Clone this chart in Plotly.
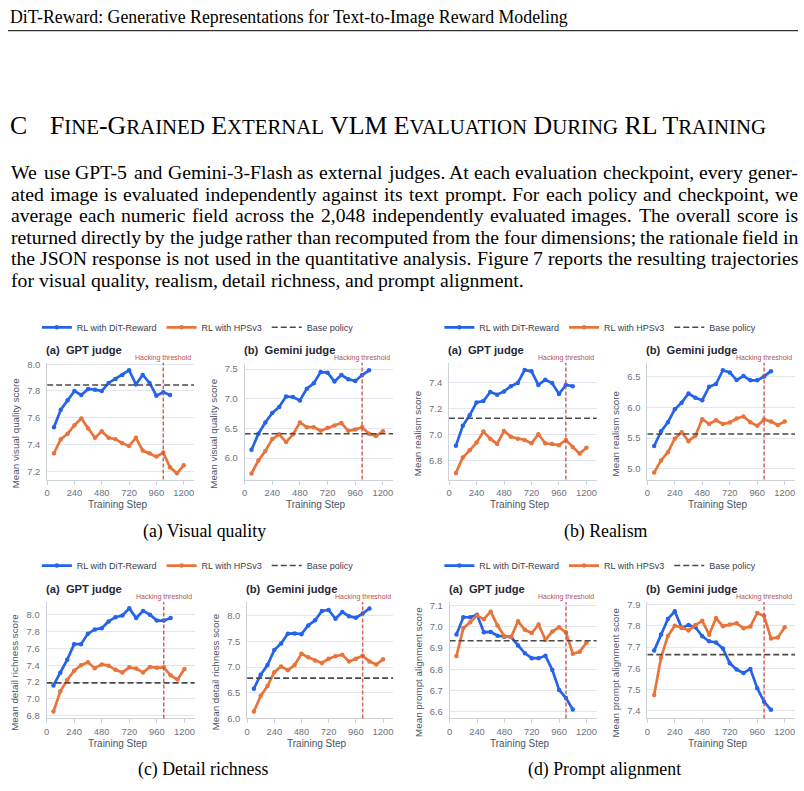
import plotly.graph_objects as go

W, H = 804, 791

# ---------------- data ----------------
STEPS_DIT = [60, 120, 180, 240, 300, 360, 420, 480, 540, 600, 660, 720, 780, 840, 900, 960, 1020, 1080]
STEPS_HPS = [60, 120, 180, 240, 300, 360, 420, 480, 540, 600, 660, 720, 780, 840, 900, 960, 1020, 1080, 1140, 1200]
X_TICKS = [0, 240, 480, 720, 960, 1200]
X_RANGE = [0, 1290]
HACK_STEP = 1020

VQ_GPT_DIT = [7.53, 7.66, 7.73, 7.80, 7.77, 7.815, 7.81, 7.80, 7.86, 7.89, 7.92, 7.955, 7.85, 7.92, 7.86, 7.765, 7.79, 7.77]
VQ_GPT_HPS = [7.335, 7.44, 7.48, 7.545, 7.595, 7.52, 7.45, 7.50, 7.45, 7.44, 7.41, 7.39, 7.45, 7.355, 7.335, 7.31, 7.34, 7.23, 7.185, 7.245]
VQ_GPT_BASE = 7.845
VQ_GEM_DIT = [6.14, 6.41, 6.60, 6.76, 6.86, 7.04, 7.03, 6.97, 7.17, 7.26, 7.45, 7.44, 7.29, 7.40, 7.33, 7.30, 7.40, 7.48]
VQ_GEM_HPS = [5.74, 5.96, 6.12, 6.32, 6.40, 6.27, 6.40, 6.60, 6.52, 6.52, 6.46, 6.51, 6.55, 6.59, 6.46, 6.48, 6.52, 6.41, 6.37, 6.45]
VQ_GEM_BASE = 6.41

RE_GPT_DIT = [6.915, 7.07, 7.15, 7.25, 7.26, 7.33, 7.31, 7.335, 7.375, 7.40, 7.50, 7.49, 7.385, 7.425, 7.40, 7.315, 7.385, 7.375]
RE_GPT_HPS = [6.705, 6.825, 6.88, 6.94, 7.025, 6.97, 6.93, 7.03, 6.985, 6.97, 6.96, 6.935, 7.005, 6.935, 6.93, 6.92, 6.96, 6.905, 6.855, 6.90]
RE_GPT_BASE = 7.128
RE_GEM_DIT = [5.37, 5.61, 5.76, 5.97, 6.08, 6.23, 6.16, 6.12, 6.34, 6.385, 6.61, 6.575, 6.45, 6.515, 6.445, 6.445, 6.51, 6.595]
RE_GEM_HPS = [4.935, 5.135, 5.27, 5.49, 5.595, 5.45, 5.54, 5.81, 5.73, 5.79, 5.73, 5.755, 5.82, 5.855, 5.76, 5.70, 5.805, 5.77, 5.715, 5.77]
RE_GEM_BASE = 5.567

DR_GPT_DIT = [7.16, 7.31, 7.465, 7.65, 7.65, 7.775, 7.825, 7.84, 7.92, 7.97, 7.99, 8.075, 7.96, 8.045, 8.0, 7.93, 7.93, 7.96]
DR_GPT_HPS = [6.85, 7.09, 7.225, 7.335, 7.40, 7.435, 7.365, 7.41, 7.395, 7.345, 7.315, 7.375, 7.36, 7.315, 7.38, 7.37, 7.375, 7.28, 7.23, 7.355]
DR_GPT_BASE = 7.19
DR_GEM_DIT = [6.58, 6.85, 7.04, 7.33, 7.46, 7.65, 7.655, 7.64, 7.81, 7.91, 8.09, 8.11, 7.94, 8.07, 7.99, 7.96, 8.04, 8.14]
DR_GEM_HPS = [6.135, 6.44, 6.63, 6.90, 7.01, 6.94, 7.04, 7.26, 7.19, 7.13, 7.08, 7.16, 7.21, 7.24, 7.11, 7.16, 7.22, 7.11, 7.05, 7.15]
DR_GEM_BASE = 6.785

PA_GPT_DIT = [6.963, 7.044, 7.044, 7.056, 6.974, 6.975, 6.957, 6.953, 6.951, 6.912, 6.875, 6.852, 6.852, 6.863, 6.797, 6.703, 6.665, 6.611]
PA_GPT_HPS = [6.862, 6.993, 7.02, 7.052, 7.035, 7.07, 7.005, 6.955, 6.952, 7.025, 6.985, 6.97, 7.01, 6.938, 6.977, 6.997, 6.972, 6.873, 6.882, 6.925]
PA_GPT_BASE = 6.934
PA_GEM_DIT = [7.683, 7.759, 7.832, 7.868, 7.79, 7.803, 7.793, 7.75, 7.727, 7.721, 7.693, 7.624, 7.594, 7.578, 7.597, 7.506, 7.443, 7.405]
PA_GEM_HPS = [7.474, 7.65, 7.752, 7.80, 7.792, 7.778, 7.803, 7.823, 7.758, 7.836, 7.798, 7.806, 7.812, 7.788, 7.796, 7.86, 7.846, 7.74, 7.745, 7.793]
PA_GEM_BASE = 7.664

SERIES_NAMES = ["RL with DiT-Reward", "RL with HPSv3", "Base policy"]
PANEL_TITLES = ["(a)&nbsp;&nbsp;GPT judge", "(b)&nbsp;&nbsp;Gemini judge"]
Y_TITLES = ["Mean visual quality score", "Mean realism score", "Mean detail richness score", "Mean prompt alignment score"]
CAPTIONS = ["(a) Visual quality", "(b) Realism", "(c) Detail richness", "(d) Prompt alignment"]

HEADER = "DiT-Reward: Generative Representations for Text-to-Image Reward Modeling"
PARAGRAPH = [
    "We use GPT-5 and Gemini-3-Flash as external judges. At each evaluation checkpoint, every gener-",
    "ated image is evaluated independently against its text prompt. For each policy and checkpoint, we",
    "average each numeric field across the 2,048 independently evaluated images. The overall score is",
    "returned directly by the judge rather than recomputed from the four dimensions; the rationale field in",
    "the JSON response is not used in the quantitative analysis. Figure 7 reports the resulting trajectories",
    "for visual quality, realism, detail richness, and prompt alignment.",
]

# ---------------- styling ----------------
BLUE = "#2563eb"
ORANGE = "#e8743b"
BASE_C = "#4a4a4a"
HACK_C = "#c0504d"
GRID_C = "#e3e6ee"
AXIS_C = "#cdd1d8"
TICK_FONT = dict(family="Liberation Sans, Arial", size=9.4, color="#6b7280")
SANS = "Liberation Sans, Arial"
SERIF = "Liberation Serif, Times New Roman"

# panels: (data dit, data hps, base, yrange, dtick, x0, x1, top, bottom, group, col)
PANELS = [
    (VQ_GPT_DIT, VQ_GPT_HPS, VQ_GPT_BASE, [7.139, 8.010], 0.2, 44.3, 191.7, 363, 481, 0, 0),
    (VQ_GEM_DIT, VQ_GEM_HPS, VQ_GEM_BASE, [5.638, 7.605], 0.5, 242.5, 391.7, 363, 481, 0, 1),
    (RE_GPT_DIT, RE_GPT_HPS, RE_GPT_BASE, [6.655, 7.555], 0.2, 447.7, 596, 363, 481, 1, 0),
    (RE_GEM_DIT, RE_GEM_HPS, RE_GEM_BASE, [4.822, 6.731], 0.5, 646.7, 795, 363, 481, 1, 1),
    (DR_GPT_DIT, DR_GPT_HPS, DR_GPT_BASE, [6.768, 8.149], 0.2, 43.7, 192.5, 605, 722.7, 2, 0),
    (DR_GEM_DIT, DR_GEM_HPS, DR_GEM_BASE, [6.0, 8.263], 0.5, 245, 391.7, 605, 722.7, 2, 1),
    (PA_GPT_DIT, PA_GPT_HPS, PA_GPT_BASE, [6.569, 7.115], 0.1, 448.3, 596, 605, 722.7, 3, 0),
    (PA_GEM_DIT, PA_GEM_HPS, PA_GEM_BASE, [7.364, 7.911], 0.1, 646.7, 795, 605, 722.7, 3, 1),
]
LEGEND_POS = [(34, 327), (438, 327), (34, 568), (438, 568)]
CAPTION_POS = [(202, 534), (605, 534), (201, 774), (604, 774)]


def px(x):
    return x / W


def py(y):
    return 1 - y / H


fig = go.Figure()
annotations = []
shapes = []
layout = {}

for k, (dit, hps, base, yr, dt, x0, x1, top, bot, grp, col) in enumerate(PANELS):
    n = k + 1
    xa = "x" if n == 1 else f"x{n}"
    ya = "y" if n == 1 else f"y{n}"
    leg = "legend" if grp == 0 else f"legend{grp + 1}"
    show = col == 0
    fig.add_trace(go.Scatter(
        x=STEPS_DIT, y=dit, mode="lines+markers", name=SERIES_NAMES[0],
        line=dict(color=BLUE, width=2.7), marker=dict(color=BLUE, size=4.5),
        xaxis=xa, yaxis=ya, legend=leg, showlegend=show))
    fig.add_trace(go.Scatter(
        x=STEPS_HPS, y=hps, mode="lines+markers", name=SERIES_NAMES[1],
        line=dict(color=ORANGE, width=2.7), marker=dict(color=ORANGE, size=4.5),
        xaxis=xa, yaxis=ya, legend=leg, showlegend=show))
    fig.add_trace(go.Scatter(
        x=X_RANGE, y=[base, base], mode="lines", name=SERIES_NAMES[2],
        line=dict(color=BASE_C, width=1.6, dash="6px,3px"),
        xaxis=xa, yaxis=ya, legend=leg, showlegend=show))

    layout[("xaxis" if n == 1 else f"xaxis{n}")] = dict(
        domain=[px(x0), px(x1)], range=X_RANGE, tickvals=X_TICKS, anchor=ya,
        showline=True, linecolor=AXIS_C, linewidth=1, showgrid=False, zeroline=False,
        ticks="outside", ticklen=4, tickcolor=AXIS_C, tickfont=TICK_FONT)
    layout[("yaxis" if n == 1 else f"yaxis{n}")] = dict(
        domain=[py(bot), py(top)], range=yr, dtick=dt, tick0=0, tickformat=".1f", anchor=xa,
        showline=True, linecolor=AXIS_C, linewidth=1, showgrid=True, gridcolor=GRID_C,
        gridwidth=1, zeroline=False, ticks="outside", ticklen=4,
        tickcolor="rgba(0,0,0,0)", tickfont=TICK_FONT)

    # hacking threshold
    shapes.append(dict(type="line", xref=xa, yref=f"{ya} domain", x0=HACK_STEP, x1=HACK_STEP,
                       y0=0, y1=1, line=dict(color=HACK_C, width=1.5, dash="4px,2px"), opacity=0.85))
    annotations.append(dict(text="Hacking threshold", xref=xa, yref=f"{ya} domain", x=HACK_STEP,
                            y=1, yanchor="bottom", xanchor="center", showarrow=False, yshift=-1,
                            font=dict(family=SANS, size=7, color="#b5524f")))
    # panel title
    annotations.append(dict(text=f"<b>{PANEL_TITLES[col]}</b>", xref="paper", yref="paper",
                            x=px(x0 - 3), y=py(top - 13), xanchor="left", yanchor="middle",
                            showarrow=False, font=dict(family=SANS, size=11.2, color="#1f2937")))
    # y title
    annotations.append(dict(text=Y_TITLES[grp], xref="paper", yref="paper", textangle=-90,
                            x=px(x0 - 32), y=py((top + bot) / 2 + 12), xanchor="center", yanchor="middle",
                            showarrow=False, font=dict(family=SANS, size=9.8, color="#4b5563")))
    # x title
    annotations.append(dict(text="Training Step", xref="paper", yref="paper",
                            x=px((x0 + x1) / 2 - 3), y=py(bot + 25), xanchor="center", yanchor="middle",
                            showarrow=False, font=dict(family=SANS, size=10, color="#4b5563")))

for g, (lx, ly) in enumerate(LEGEND_POS):
    name = "legend" if g == 0 else f"legend{g + 1}"
    layout[name] = dict(orientation="h", x=px(lx), y=py(ly), xanchor="left", yanchor="middle",
                        bgcolor="rgba(0,0,0,0)", itemwidth=30,
                        font=dict(family=SANS, size=9, color="#374151"))

for cap, (cx, cy) in zip(CAPTIONS, CAPTION_POS):
    annotations.append(dict(text=cap, xref="paper", yref="paper", x=px(cx), y=py(cy),
                            xanchor="center", yanchor="middle", showarrow=False,
                            font=dict(family=SERIF, size=17.8, color="black")))

# ---------------- page text ----------------
TW = {' ': 250, 'a': 444, 'b': 500, 'c': 444, 'd': 500, 'e': 444, 'f': 333, 'g': 500, 'h': 500,
      'i': 278, 'j': 278, 'k': 500, 'l': 278, 'm': 778, 'n': 500, 'o': 500, 'p': 500, 'q': 500,
      'r': 333, 's': 389, 't': 278, 'u': 500, 'v': 500, 'w': 722, 'x': 500, 'y': 500, 'z': 444,
      'A': 722, 'B': 667, 'C': 667, 'D': 722, 'E': 611, 'F': 556, 'G': 722, 'H': 722, 'I': 333,
      'J': 389, 'K': 722, 'L': 611, 'M': 889, 'N': 722, 'O': 722, 'P': 556, 'Q': 722, 'R': 667,
      'S': 556, 'T': 611, 'U': 722, 'V': 722, 'W': 944, 'X': 722, 'Y': 722, 'Z': 611,
      '.': 250, ',': 250, '-': 333, ':': 278, ';': 278, '(': 333, ')': 333}


def tw(s, size):
    return sum(TW.get(c, 500) for c in s) / 1000 * size


annotations.append(dict(text=HEADER, xref="paper", yref="paper", x=px(5), y=py(13), xanchor="left",
                        yanchor="middle", showarrow=False, font=dict(family=SERIF, size=17.8, color="black")))
shapes.append(dict(type="line", xref="paper", yref="paper", x0=px(5), x1=px(798), y0=py(27), y1=py(27),
                   line=dict(color="black", width=1)))

S = 20.8
sc = lambda t: f"<span style='font-size:{S}px'>{t}</span>"
title = (f"F{sc('INE')}-G{sc('RAINED')} E{sc('XTERNAL')} VLM E{sc('VALUATION')} "
         f"D{sc('URING')} RL T{sc('RAINING')}")
annotations.append(dict(text="C", xref="paper", yref="paper", x=px(5), y=py(123), xanchor="left",
                        yanchor="middle", showarrow=False, font=dict(family=SERIF, size=25.8, color="black")))
annotations.append(dict(text=title, xref="paper", yref="paper", x=px(45), y=py(123), xanchor="left",
                        yanchor="middle", showarrow=False, font=dict(family=SERIF, size=25.8, color="black")))

BODY = 19.7
XL, XR = 7, 797
for i, line in enumerate(PARAGRAPH):
    yy = 170 + 21.8 * i
    words = line.split(" ")
    if i < len(PARAGRAPH) - 1:
        total = sum(tw(w, BODY) for w in words)
        gap = (XR - XL - total) / (len(words) - 1)
    else:
        gap = tw(" ", BODY)
    x = XL
    for w in words:
        annotations.append(dict(text=w, xref="paper", yref="paper", x=px(x - 1), y=py(yy),
                                xanchor="left", yanchor="middle", showarrow=False,
                                font=dict(family=SERIF, size=BODY, color="black")))
        x += tw(w, BODY) + gap

fig.update_layout(
    width=W, height=H, margin=dict(l=0, r=0, t=0, b=0, pad=0),
    paper_bgcolor="white", plot_bgcolor="white",
    annotations=annotations, shapes=shapes, **layout)

fig.write_html("out.html")
